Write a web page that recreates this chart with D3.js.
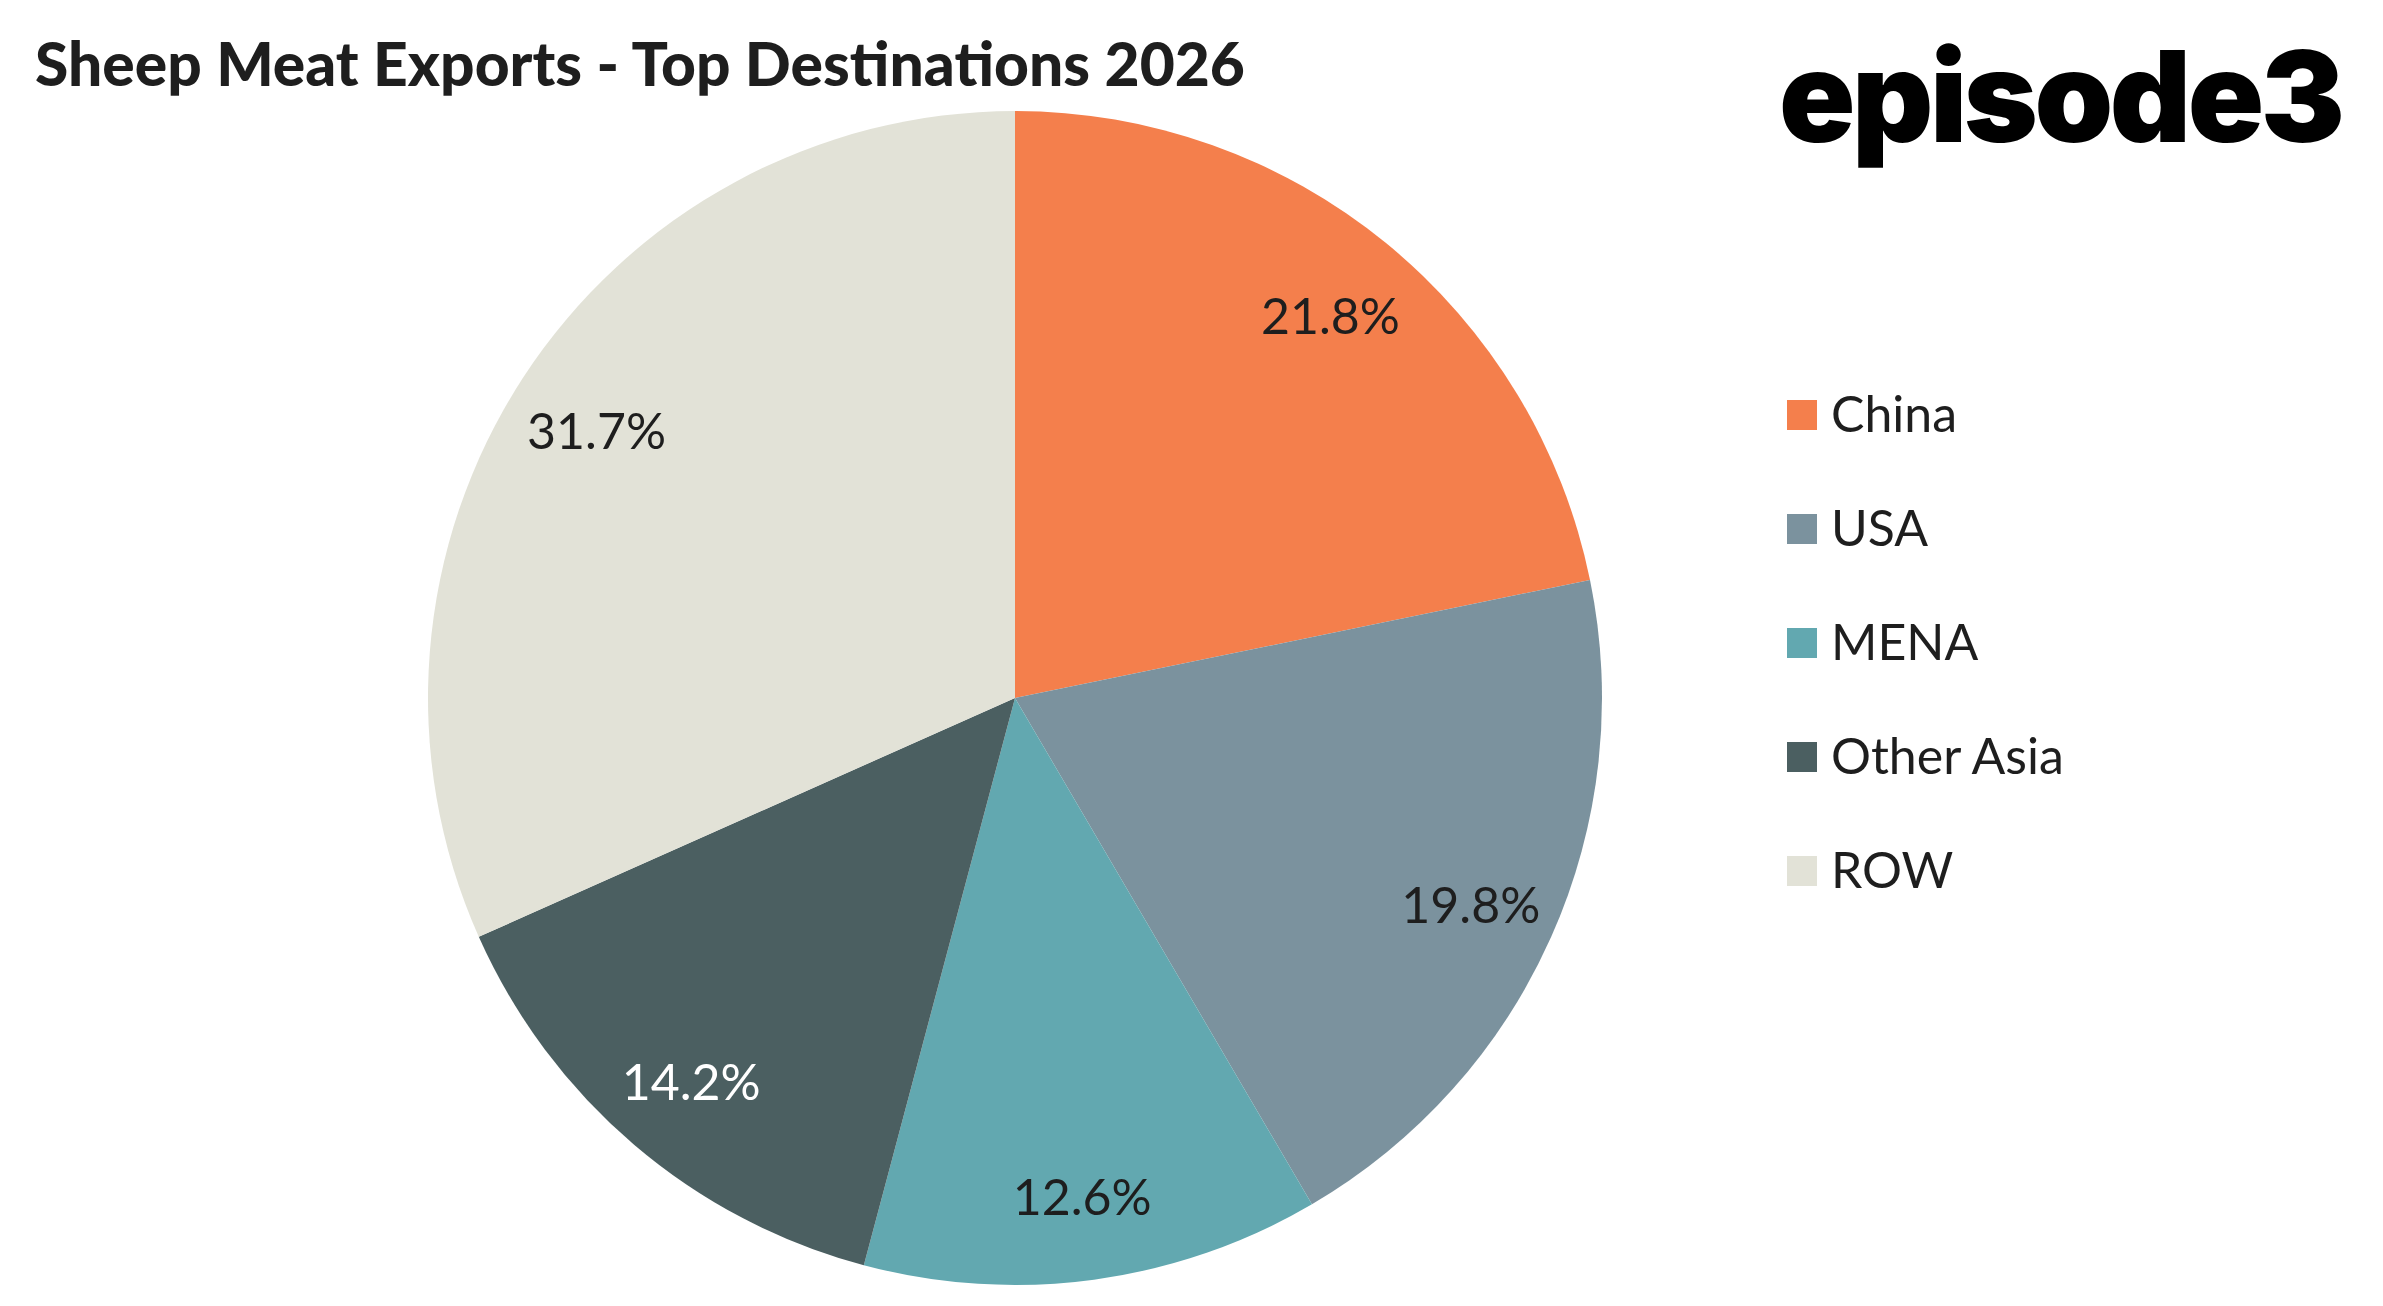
<!DOCTYPE html>
<html>
<head>
<meta charset="utf-8">
<script src="https://cdn.jsdelivr.net/npm/d3@7"></script>
<style>
  body { margin: 0; background: #fff; }
  svg { display: block; }
</style>
</head>
<body>
<svg id="chart" width="2383" height="1306"></svg>
<script>
// data
var categories = ["China", "USA", "MENA", "Other Asia", "ROW"];
var shares = [21.8, 19.8, 12.6, 14.2, 31.7];
var colours = ["#f47f4c", "#7b929e", "#62a8b0", "#4b5f61", "#e2e2d7"];
var labelColours = ["#1e1e1e", "#1e1e1e", "#1e1e1e", "#ffffff", "#1e1e1e"];

var width = 2383, height = 1306;
var cx = 1015, cy = 698, radius = 587;

var svg = d3.select("#chart");

var data = categories.map(function(c, i) {
  return { name: c, value: shares[i], colour: colours[i], labelColour: labelColours[i] };
});

var pie = d3.pie()
    .sort(null)
    .value(function(d) { return d.value; });

var arc = d3.arc()
    .innerRadius(0)
    .outerRadius(radius);

var labelArc = d3.arc()
    .innerRadius(radius * 0.85)
    .outerRadius(radius * 0.85);

var g = svg.append("g")
    .attr("transform", "translate(" + cx + "," + cy + ")");

var slice = g.selectAll("g.slice")
    .data(pie(data))
  .enter().append("g")
    .attr("class", "slice");

slice.append("path")
    .attr("d", arc)
    .attr("fill", function(d) { return d.data.colour; });

slice.append("text")
    .attr("transform", function(d) { return "translate(" + labelArc.centroid(d) + ")"; })
    .attr("text-anchor", "middle")
    .attr("dy", "0.45em")
    .style("font-family", "Lato, 'Open Sans', sans-serif")
    .style("font-size", "50px")
    .attr("fill", function(d) { return d.data.labelColour; })
    .text(function(d) { return d.data.value.toFixed(1) + "%"; });

// title
svg.append("text")
    .attr("x", 35)
    .attr("y", 86)
    .attr("textLength", 1210)
    .attr("lengthAdjust", "spacingAndGlyphs")
    .style("font-family", "Lato, 'Open Sans', sans-serif")
    .style("font-weight", "900")
    .style("font-size", "61px")
    .attr("fill", "#1e1e1e")
    .text("Sheep Meat Exports - Top Destinations 2026");

// logo - tighten letter spacing so it fits the same width as the original
var logo = svg.append("text")
    .attr("x", 1779)
    .attr("y", 142)
    .style("font-family", "Inter, sans-serif")
    .style("font-weight", "900")
    .style("font-size", "126px")
    .attr("fill", "#000")
    .text("episode3");
var natural = logo.node().getComputedTextLength();
logo.style("letter-spacing", ((566 - natural) / 7) + "px");

// legend
var legendY = d3.scalePoint()
    .domain(categories)
    .range([415, 871]);

var legend = svg.selectAll("g.legend")
    .data(data)
  .enter().append("g")
    .attr("class", "legend")
    .attr("transform", function(d) { return "translate(1787," + legendY(d.name) + ")"; });

legend.append("rect")
    .attr("x", 0)
    .attr("y", -15)
    .attr("width", 30)
    .attr("height", 30)
    .attr("fill", function(d) { return d.colour; });

legend.append("text")
    .attr("x", 44)
    .attr("y", 17)
    .style("font-family", "Lato, 'Open Sans', sans-serif")
    .style("font-size", "50px")
    .attr("fill", "#1e1e1e")
    .text(function(d) { return d.name; });
</script>
</body>
</html>
